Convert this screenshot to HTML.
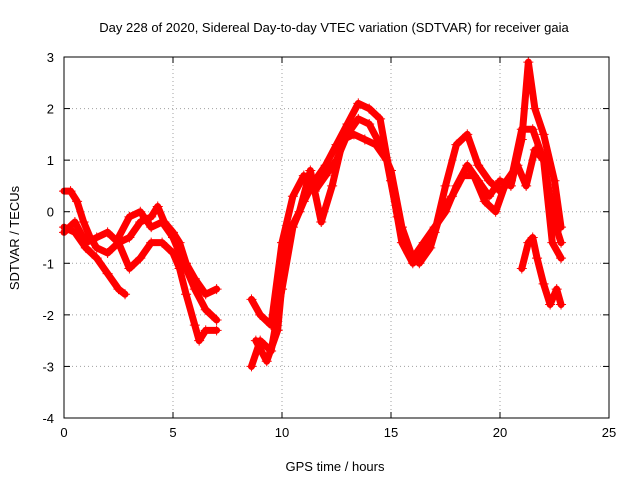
<!DOCTYPE html>
<html><head><meta charset="utf-8"><style>
body{margin:0;background:#fff}
svg text{font-family:"Liberation Sans",sans-serif;font-size:13px;fill:#000}
</style></head><body>
<svg id="chart" width="640" height="480">
<rect width="640" height="480" fill="#fff"/>
<text x="334" y="32" text-anchor="middle">Day 228 of 2020, Sidereal Day-to-day VTEC variation (SDTVAR) for receiver gaia</text>
<text x="335" y="471" text-anchor="middle">GPS time / hours</text>
<text transform="translate(19,238) rotate(-90)" text-anchor="middle">SDTVAR / TECUs</text>
<g id="grid"></g><g id="ticks"></g><g id="series"></g>
<rect x="64" y="57" width="545" height="361" fill="none" stroke="#000"/>
</svg>
<script>
const xTicks=[0,5,10,15,20,25];
const yTicks=[-4,-3,-2,-1,0,1,2,3];
const t1x=[0,0.3,0.6,0.9,1.2,1.5,2,2.5,3,3.5,4,4.3,4.6,5,5.3,5.6,6,6.5,7];
const t1y=[0.4,0.4,0.2,-0.2,-0.5,-0.7,-0.8,-0.6,-0.5,-0.2,-0.1,0.1,-0.2,-0.4,-0.6,-1.0,-1.3,-1.6,-1.5];
const t2x=[0,0.5,1,1.5,2,2.5,3,3.5,4,4.5,5,5.3,5.6,6,6.2,6.5,7];
const t2y=[-0.4,-0.2,-0.6,-0.5,-0.4,-0.6,-1.1,-0.9,-0.6,-0.6,-0.8,-1.1,-1.6,-2.2,-2.5,-2.3,-2.3];
const t3x=[0,0.5,1,1.5,2,2.5,2.8];
const t3y=[-0.3,-0.4,-0.7,-0.9,-1.2,-1.5,-1.6];
const t4x=[2.5,3,3.5,4,4.5,5,5.5,6,6.5,7];
const t4y=[-0.5,-0.1,0.0,-0.3,-0.2,-0.5,-1.0,-1.5,-1.9,-2.1];
const t5x=[8.6,9,9.5,10,10.5,11,11.5,12,12.5,13,13.5,14,14.5,15,15.5,16,16.5,17,17.5,18,18.5,19,19.5,20,20.5,21,21.5,22,22.5,22.8];
const t5y=[-3.0,-2.5,-2.7,-1.5,-0.3,0.2,0.6,0.9,1.3,1.7,2.1,2.0,1.8,0.6,-0.6,-1.0,-0.8,-0.4,0.5,1.3,1.5,0.9,0.6,0.4,0.6,1.6,1.6,1.0,-0.2,-0.6];
const t6x=[8.6,9,9.5,10,10.5,11,11.5,12,12.5,13,13.5,14,14.5,15,15.5,16,16.5,17,17.5,18,18.5,19,19.5,20,20.5,21,21.3,21.6,22,22.5,22.8];
const t6y=[-1.7,-2.0,-2.2,-0.6,0.3,0.7,0.4,0.7,1.0,1.5,1.8,1.7,1.3,0.8,-0.3,-0.9,-0.6,-0.3,0.0,0.5,0.9,0.6,0.3,0.6,0.5,1.4,2.9,2.0,1.5,0.6,-0.3];
const t7x=[8.8,9.3,9.8,10.2,10.8,11.3,11.8,12.3,12.8,13.3,13.8,14.3,14.8,15.3,15.8,16.3,16.8,17.3,17.8,18.3,18.8,19.3,19.8,20.3,20.8,21.2,21.6,22,22.4,22.8];
const t7y=[-2.5,-2.9,-2.3,-0.5,0.0,0.8,-0.2,0.5,1.4,1.5,1.4,1.3,1.0,-0.1,-0.8,-1.0,-0.7,0.0,0.3,0.7,0.7,0.2,0.0,0.6,0.9,0.5,1.2,1.0,-0.6,-0.9];
const t8x=[21,21.3,21.5,21.7,22,22.3,22.6,22.8];
const t8y=[-1.1,-0.6,-0.5,-0.9,-1.4,-1.8,-1.5,-1.8];
const traces=[[t1x,t1y],[t2x,t2y],[t3x,t3y],[t4x,t4y],[t5x,t5y],[t6x,t6y],[t7x,t7y],[t8x,t8y]];
const X=v=>64+v*(545/25), Y=v=>418-(v+4)*(361/7);
const NS='http://www.w3.org/2000/svg';
const grid=document.getElementById('grid'),ticks=document.getElementById('ticks'),ser=document.getElementById('series');
function mk(tag,at,par){const e=document.createElementNS(NS,tag);for(const k in at)e.setAttribute(k,at[k]);par.appendChild(e);return e;}
xTicks.forEach(t=>{const x=X(t);
 if(t>0&&t<25){const l=mk('line',{x1:x,x2:x,y1:57,y2:418,stroke:'#a0a0a0','stroke-dasharray':'1,3'},grid);
 
 }
 mk('line',{x1:x,x2:x,y1:418,y2:412,stroke:'#000'},ticks);mk('line',{x1:x,x2:x,y1:57,y2:63,stroke:'#000'},ticks);
 const tx=mk('text',{x:x,y:437,'text-anchor':'middle'},ticks);tx.textContent=t;
 
 });
yTicks.forEach(t=>{const y=Y(t);
 if(t>-4&&t<3){const l=mk('line',{x1:64,x2:609,y1:y,y2:y,stroke:'#a0a0a0','stroke-dasharray':'1,3'},grid);
 
 }
 mk('line',{x1:64,x2:70,y1:y,y2:y,stroke:'#000'},ticks);mk('line',{x1:609,x2:603,y1:y,y2:y,stroke:'#000'},ticks);
 const tx=mk('text',{x:54,y:y+5,'text-anchor':'end'},ticks);tx.textContent=t;
 
 });
traces.forEach((tr,i)=>{const [xs,ys]=tr;
 const pts=xs.map((x,j)=>X(x)+','+Y(ys[j])).join(' ');
 const pl=mk('polyline',{points:pts,fill:'none',stroke:'#ff0000','stroke-width':7,'stroke-linejoin':'round','stroke-linecap':'round'},ser);
 
 
 xs.forEach((x,j)=>{const cx=X(x),cy=Y(ys[j]);
  const p=mk('path',{d:`M${cx-5},${cy}h10M${cx},${cy-5}v10`,stroke:'#ff0000','stroke-width':1},ser);
  
  });
});
</script>
</body></html>
